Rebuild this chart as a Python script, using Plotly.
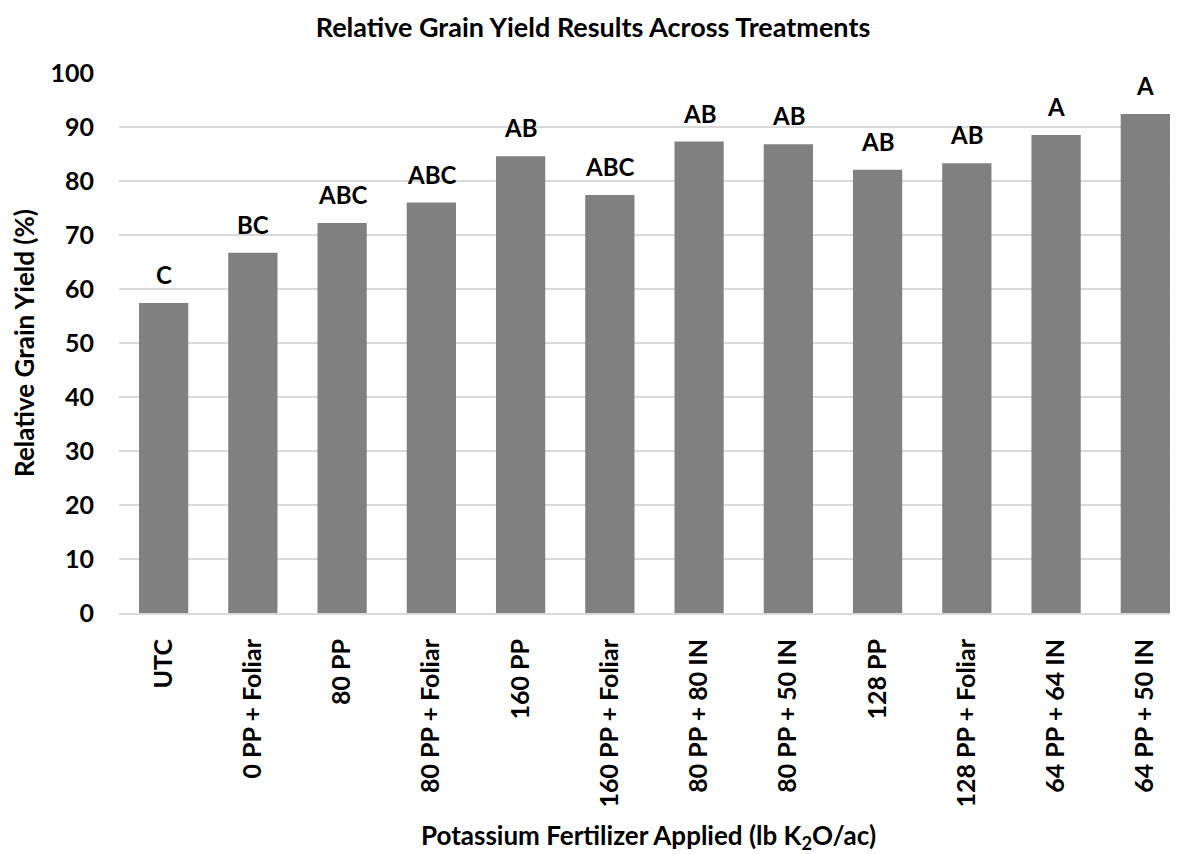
import plotly.graph_objects as go

# Tratamientos y rendimiento relativo (%)
tratamientos = ['UTC', '0 PP + Foliar', '80 PP', '80 PP + Foliar', '160 PP', '160 PP + Foliar',
                '80 PP + 80 IN', '80 PP + 50 IN', '128 PP', '128 PP + Foliar', '64 PP + 64 IN', '64 PP + 50 IN']
rendimiento = [57.4, 66.7, 72.2, 76.0, 84.6, 77.4, 87.3, 86.8, 82.1, 83.3, 88.5, 92.4]
letras = ['C', 'BC', 'ABC', 'ABC', 'AB', 'ABC', 'AB', 'AB', 'AB', 'AB', 'A', 'A']

fuente = 'Lato'

fig = go.Figure(go.Bar(
    x=tratamientos, y=rendimiento,
    marker=dict(color='#808080', line=dict(width=0)),
    hoverinfo='x+y',
))

# Letras de significancia encima de cada barra
for t, r, l in zip(tratamientos, rendimiento, letras):
    fig.add_annotation(x=t, y=r, text='<b>' + l + '</b>', showarrow=False,
                       yanchor='bottom', yshift=12,
                       font=dict(family=fuente, size=24, color='black'))

fig.update_layout(
    width=1170, height=846,
    plot_bgcolor='white', paper_bgcolor='white',
    margin=dict(l=111, r=0, t=65, b=241, pad=0),
    bargap=0.448,
    showlegend=False,
    title=dict(text='<b>Relative Grain Yield Results Across Treatments</b>',
               x=0.5, xanchor='center', xref='container',
               y=0.977, yanchor='middle', yref='container',
               font=dict(family=fuente, size=27, color='black')),
    font=dict(family=fuente, color='black'),
)

fig.update_yaxes(
    range=[0, 100], dtick=10, showgrid=True, gridcolor='#d9d9d9', gridwidth=2,
    zeroline=False, showline=False, ticks='', ticklabelstandoff=24,
    tickfont=dict(family=fuente, size=25, color='black', weight='bold'),
    title=dict(text='<b>Relative Grain Yield (%)</b>', standoff=10,
               font=dict(family=fuente, size=26, color='black')),
    automargin=False,
)
fig.update_xaxes(
    range=[-0.5, 11.366],
    tickangle=-90, showline=True, linecolor='#d9d9d9', linewidth=2,
    ticks='', ticklabelstandoff=14,
    tickfont=dict(family=fuente, size=25, color='black', weight='bold'),
    title=dict(text='<b>Potassium Fertilizer Applied (lb K<sub>2</sub>O/ac)</b>', standoff=20,
               font=dict(family=fuente, size=26, color='black')),
    automargin=False,
)

fig.write_html('out.html')
